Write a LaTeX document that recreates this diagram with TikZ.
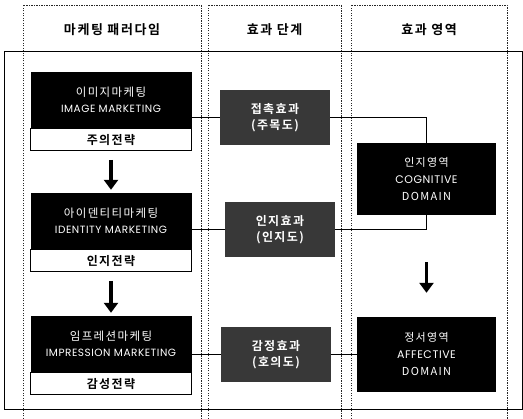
\documentclass[tikz,border=0pt]{standalone}
\usepackage{fontspec}
\newfontfamily\kr{Noto Sans CJK KR}[BoldFont={Noto Sans CJK KR Bold}, LetterSpace=12]
\newfontfamily\lat{Poppins}[LetterSpace=5]
\usetikzlibrary{positioning}
\usetikzlibrary{arrows.meta}

\begin{document}
\begin{tikzpicture}[x=1pt, y=-1pt]
        % 样式
        \tikzstyle{blackbox}=[fill=black, text=white, minimum width=161pt, minimum height=56pt, inner sep=0pt, align=center, font=\kr\fontsize{11.5}{16}\selectfont]
        \tikzstyle{strip}=[draw=black, line width=0.8pt, fill=white, minimum width=161pt, minimum height=22pt, inner sep=0pt, font=\kr\bfseries\fontsize{12}{14}\selectfont]
        \tikzstyle{effbox}=[fill=black!78, text=white, minimum width=110pt, minimum height=55pt, inner sep=0pt, align=center, font=\kr\bfseries\fontsize{12}{16}\selectfont]
        \tikzstyle{domainbox}=[fill=black, text=white, minimum width=139pt, inner sep=0pt, align=center, font=\kr\fontsize{11}{17}\selectfont]
        \tikzstyle{colline}=[draw=black!85, line width=0.6pt, dash pattern=on 1.2pt off 1.3pt]
        \tikzstyle{link}=[draw=black, line width=0.8pt]
        \tikzstyle{bigarrow}=[line width=3.8pt, -{Triangle[width=14pt, length=10pt]}]

        \useasboundingbox (0,0) rectangle (523,419);

        % 三个虚线列 + 列标题
        \foreach \xa/\xb/\name/\t in {23/201/colA/마케팅 패러다임, 208/341/colB/효과 단계, 351/507/colC/효과 영역} {
            \draw[colline] (\xa,419) -- (\xa,5) -- (\xb,5) -- (\xb,419);
            \node[font=\kr\bfseries\fontsize{13}{15}\selectfont] (\name) at ({(\xa+\xb)/2},30) {\t};
        }

        % 外框
        \draw[line width=1pt] (4,52) rectangle (522,410);

        % 左列:营销范式
        \node[blackbox] (img) at (111,100) {이미지마케팅\\\lat\fontsize{10.5}{16}\selectfont IMAGE MARKETING};
        \node[strip, below=0pt of img] (imgS) {주의전략};
        \node[blackbox] (idt) at (111,221) {아이덴티티마케팅\\\lat\fontsize{10.5}{16}\selectfont IDENTITY MARKETING};
        \node[strip, below=0pt of idt] (idtS) {인지전략};
        \node[blackbox] (imp) at (111,344) {임프레션마케팅\\\lat\fontsize{10.5}{16}\selectfont IMPRESSION MARKETING};
        \node[strip, below=0pt of imp] (impS) {감성전략};

        \draw[bigarrow, shorten <=9pt, shorten >=3pt] (imgS) -- (idt);
        \draw[bigarrow, shorten <=9pt, shorten >=3pt] (idtS) -- (imp);

        % 中列:效果阶段
        \node[effbox] (effA) at (275,117.5) {접촉효과\\(주목도)};
        \node[effbox] (effB) at (280,229.5) {인지효과\\(인지도)};
        \node[effbox] (effC) at (276,354.5) {감정효과\\(호의도)};

        % 右列:效果领域
        \node[domainbox, minimum height=72pt] (cog) at (426.5,179) {인지영역\\\lat COGNITIVE\\DOMAIN};
        \node[domainbox, minimum height=75pt] (aff) at (426.5,354.5) {정서영역\\\lat AFFECTIVE\\DOMAIN};

        \draw[bigarrow, shorten <=47pt, shorten >=24pt] (cog.south) -- (aff.north);

        % 连线
        \draw[link] (effA.west) -- (effA.west -| img.east);
        \draw[link] (effB.west) -- (effB.west -| idt.east);
        \draw[link] (effC.west) -- (effC.west -| imp.east);
        \draw[link] (effA.east) -| (cog.north);
        \draw[link] (effB.east) -| (cog.south);
        \draw[link] (effC.east) -- (aff.west);
    \end{tikzpicture}
\end{document}
